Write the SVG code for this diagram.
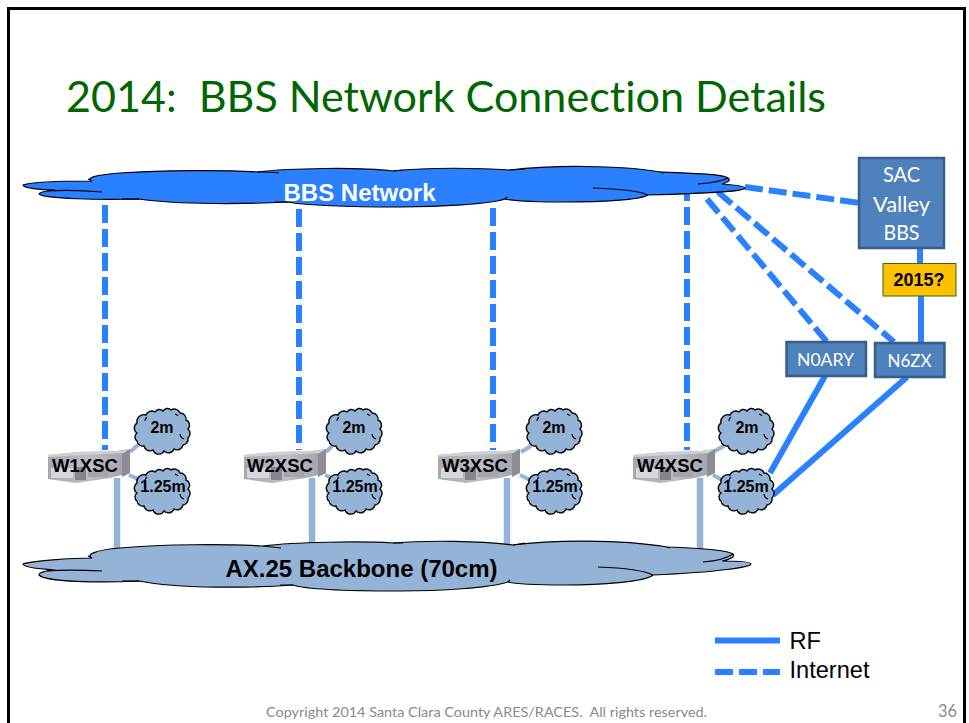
<svg xmlns="http://www.w3.org/2000/svg" width="969" height="723" viewBox="0 0 969 723">
<style>
text{font-family:"Liberation Sans",Arial,sans-serif;white-space:pre;font-variant-ligatures:none}
.cal{font-family:Lato,"Open Sans",sans-serif}
.b{font-weight:700}
.inet{fill:none;stroke:#2a80ff;stroke-width:6;stroke-dasharray:18 6}
.rf{fill:none;stroke:#2a80ff;stroke-width:6}
.bb{fill:none;stroke:#95b3d7;stroke-width:6.5}
.br{fill:none;stroke:#95b3d7;stroke-width:4}
.box{fill:#4f81bd;stroke:#385d8a;stroke-width:2.5}
.wht{fill:#fff;text-anchor:middle}
.lbl{font-size:16px;font-weight:700;text-anchor:middle;fill:#000}
.srv{font-size:18.5px;font-weight:700;text-anchor:middle;fill:#000}
.sc{fill:#95b3d7;stroke:#000;stroke-width:1.4}
.line{fill:none;stroke:#000;stroke-width:1.2}
</style>
<defs>
<linearGradient id="g" x1="0" x2="1" y1="0" y2="0"><stop offset="0" stop-color="#a8a8b0"/><stop offset=".5" stop-color="#bdbdc5"/><stop offset="1" stop-color="#a0a0a8"/></linearGradient>
<g id="cl">
<path class="sc" d="M3,25A6,6 0 0 1 3,15A7,7 0 0 1 12,7A6,6 0 0 1 21,4A5,5 0 0 1 29,3A5,5 0 0 1 37,2A6,6 0 0 1 46,5A6,6 0 0 1 52,12A5.500,5.500 0 0 1 54,21A6,6 0 0 1 54,30A6,6 0 0 1 49,37A6,6 0 0 1 40,41A6,6 0 0 1 30,43A6,6 0 0 1 19,42A6,6 0 0 1 10,38A6,6 0 0 1 3,33A5,5 0 0 1 3,25Z"/>
<path class="line" d="M46,26A6,6 0 0 0 50,31M11,13A5,5 0 0 1 13,9M41,6A5,5 0 0 1 44,8"/>
</g>
<g id="sv">
<path d="M0,6 L30,3 L68,2 L82,0 L82,24 L62,29 L28,34 L0,30Z" fill="url(#g)"/>
<path d="M0,6 L30,3 L68,2 L82,0 L76,4 L0,8Z" fill="#cfcfd6"/>
<path d="M74,5 L82,0 L82,24 L74,28Z" fill="#8d8d95"/>
<rect x="3" y="19" width="22" height="10" fill="#d6d6dc"/>
<rect x="27" y="18" width="11" height="13" fill="#85858d"/>
<rect x="40" y="21" width="20" height="7" fill="#a4a4ac"/>
</g>
</defs>
<rect x="8.500" y="8.500" width="956" height="800" fill="#fff" stroke="#000" stroke-width="3"/>
<text id="title" class="cal" x="66" y="112" font-size="42" fill="#006600" textLength="760" lengthAdjust="spacingAndGlyphs">2014:  BBS Network Connection Details</text>
<g id="connectors">
<path class="inet" d="M105,205V450"/>
<path class="inet" d="M299,209V450"/>
<path class="inet" d="M493,208V450"/>
<path class="inet" d="M687,183V450"/>
<path class="inet" d="M707,199L827,342"/>
<path class="inet" d="M718,192L894,342"/>
<path class="inet" d="M745,187L860,203"/>
<path class="rf" d="M920,248V264"/>
<path class="rf" d="M921,296V343"/>
<path class="rf" d="M825,376L770,473"/>
<path class="rf" d="M907,377L773,495"/>
<path class="bb" d="M117,478V550M312,478V550M507,478V550M700,478V550"/>
<path class="br" d="M130,452L138,445M129,475L140,480M326,452L332,446M325,475L336,480M521,452L531,446M520,475L530,480M713,452L724,446M713,475L724,481"/>
</g>
<g id="bbs-network">
<path d="M23,185C32,182 70,181 92,181C85,178 95,175 120,173C165,170 225,170 257,172C290,168 360,167 393,171C430,167 480,168 510,170C550,165 620,165 660,172C690,173 722,174 728,178C732,181 725,183 722,184C735,185 745,186 745,188C744,191 720,193 648,195C640,200 600,202 567,202C540,202 515,201 505,199C490,204 440,207 400,207C350,207 305,205 287,202C250,204 180,205 139,199C100,200 45,199 39,194C39,192 45,191 55,190C40,190 23,188 23,185Z" fill="#2a80ff" stroke="#000" stroke-width="1.2"/>
<path class="line" d="M102,192C80,190 60,190 47,191M257,172C265,172 272,172 279,173M92,181L88,179M393,171L403,170M510,170L525,169M698,184C710,183 720,182 728,178M593,188C620,189 640,191 648,195M505,199L507,197M122,199L139,199M275,202L287,202M660,172L664,173"/>
<text class="wht b" x="359.500" y="200.500" font-size="24">BBS Network</text>
</g>
<g id="ax25-backbone">
<path d="M23,564C32,561 70,558 92,558C85,555 95,550 120,548C165,544 225,544 263,546C295,542 360,541 393,543C430,540 480,541 513,545C550,540 620,539 667,547C695,548 728,550 733,554C736,557 728,560 722,561C738,561 751,562 751,564C750,567 720,572 653,575C645,582 600,585 565,585C540,585 515,584 508,582C490,588 440,591 400,591C350,591 305,589 293,585C250,588 180,589 139,581C100,583 45,582 39,575C39,572 45,571 55,570C40,569 23,567 23,564Z" fill="#95b3d7" stroke="#000" stroke-width="1.2"/>
<path class="line" d="M102,571C80,570 60,570 47,571M263,546L281,548M92,558L88,556M393,543L403,543M513,545L525,543M703,562C715,561 726,559 733,554M598,567C625,568 645,571 653,575M508,582L510,580M122,581L139,581M280,585L293,585M667,547L670,548"/>
<text class="b" x="361.500" y="577" font-size="24" text-anchor="middle">AX.25 Backbone (70cm)</text>
</g>
<g id="w1xsc"><use href="#sv" x="48" y="449"/><text class="srv" x="85" y="472">W1XSC</text></g>
<g id="w2xsc"><use href="#sv" x="244" y="449"/><text class="srv" x="280" y="472">W2XSC</text></g>
<g id="w3xsc"><use href="#sv" x="438" y="449"/><text class="srv" x="475" y="472">W3XSC</text></g>
<g id="w4xsc"><use href="#sv" x="633" y="449"/><text class="srv" x="670" y="472">W4XSC</text></g>
<g id="c1-2m"><use href="#cl" x="134" y="408"/><text class="lbl" x="162" y="433">2m</text></g>
<g id="c1-125m"><use href="#cl" x="134" y="468"/><text class="lbl" x="163" y="492">1.25m</text></g>
<g id="c2-2m"><use href="#cl" x="326" y="408"/><text class="lbl" x="354" y="433">2m</text></g>
<g id="c2-125m"><use href="#cl" x="326" y="468"/><text class="lbl" x="355" y="492">1.25m</text></g>
<g id="c3-2m"><use href="#cl" x="526" y="408"/><text class="lbl" x="554" y="433">2m</text></g>
<g id="c3-125m"><use href="#cl" x="526" y="468"/><text class="lbl" x="555" y="492">1.25m</text></g>
<g id="c4-2m"><use href="#cl" x="718" y="408"/><text class="lbl" x="747" y="433">2m</text></g>
<g id="c4-125m"><use href="#cl" x="718" y="468"/><text class="lbl" x="746" y="492">1.25m</text></g>
<g id="sac"><rect class="box" x="859" y="158" width="85" height="90"/>
<text class="cal wht" x="901.500" y="182" font-size="21" textLength="37" lengthAdjust="spacingAndGlyphs">SAC</text><text class="cal wht" x="901.500" y="212" font-size="21" textLength="57" lengthAdjust="spacingAndGlyphs">Valley</text><text class="cal wht" x="901.500" y="240" font-size="21" textLength="36" lengthAdjust="spacingAndGlyphs">BBS</text></g>
<g id="y2015"><rect x="883" y="263.500" width="73" height="32.500" fill="#ffc000" stroke="#2f6b10" stroke-width="1"/><text class="b" x="919" y="286" font-size="18" text-anchor="middle">2015?</text></g>
<g id="n0ary"><rect class="box" x="786.500" y="342" width="79.500" height="34"/><text class="cal wht" x="825.500" y="366" font-size="18" textLength="57" lengthAdjust="spacingAndGlyphs">N0ARY</text></g>
<g id="n6zx"><rect class="box" x="875" y="343" width="69.500" height="34"/><text class="cal wht" x="909.500" y="367" font-size="18" textLength="44" lengthAdjust="spacingAndGlyphs">N6ZX</text></g>
<g id="legend">
<path class="rf" d="M715,640.500H780"/>
<path class="inet" d="M715,672H780"/>
<text x="789.500" y="649" font-size="23.600">RF</text>
<text x="789.500" y="678" font-size="23.600">Internet</text>
</g>
<text class="cal" x="266" y="717" font-size="13.500" fill="#898989" textLength="441" lengthAdjust="spacingAndGlyphs">Copyright 2014 Santa Clara County ARES/RACES.  All rights reserved.</text>
<text class="cal" x="938" y="717" font-size="17" fill="#898989" textLength="19" lengthAdjust="spacingAndGlyphs">36</text>
</svg>
